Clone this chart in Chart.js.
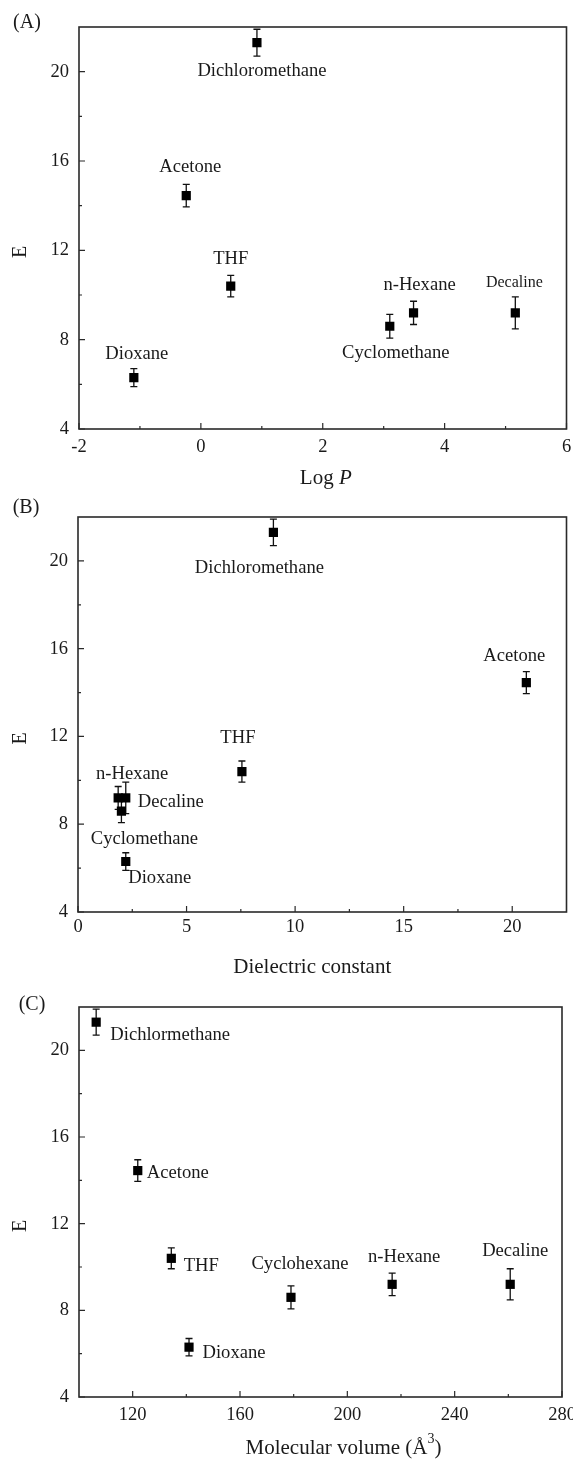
<!DOCTYPE html>
<html>
<head>
<meta charset="utf-8">
<script src="https://cdn.jsdelivr.net/npm/chart.js@4.4.1/dist/chart.umd.min.js"></script>
<style>
  html, body { margin: 0; padding: 0; background: #fff; }
  body { width: 573px; height: 1459px; position: relative; overflow: hidden; }
  .panel { position: absolute; left: 0; width: 573px; }
</style>
</head>
<body>
<div class="panel" style="top:0;height:490px"><canvas id="chart-a"></canvas></div>
<div class="panel" style="top:490px;height:490px"><canvas id="chart-b"></canvas></div>
<div class="panel" style="top:980px;height:479px"><canvas id="chart-c"></canvas></div>
<script>
// solvents, same order in all three panels
const eValues = [21.3, 14.45, 10.4, 6.3, 8.6, 9.2, 9.2];
const eErrors = [0.6, 0.5, 0.48, 0.4, 0.53, 0.52, 0.72];

// x values per panel
const logP = [0.92, -0.24, 0.49, -1.10, 3.10, 3.49, 5.16];
const dielectric = [9.0, 20.65, 7.55, 2.2, 2.0, 1.85, 2.2];
const molVolume = [106.4, 121.9, 134.4, 141.0, 179.0, 216.7, 260.7];

// point labels as printed in each panel
const labelsA = ['Dichloromethane', 'Acetone', 'THF', 'Dioxane', 'Cyclomethane', 'n-Hexane', 'Decaline'];
const labelsB = ['Dichloromethane', 'Acetone', 'THF', 'Dioxane', 'Cyclomethane', 'n-Hexane', 'Decaline'];
const labelsC = ['Dichlormethane', 'Acetone', 'THF', 'Dioxane', 'Cyclohexane', 'n-Hexane', 'Decaline'];

// tick values
const yTicks = [4, 8, 12, 16, 20];
const yMinor = [6, 10, 14, 18];
const xTicksA = [-2, 0, 2, 4, 6];
const xMinorA = [-1, 1, 3, 5];
const xTicksB = [0, 5, 10, 15, 20];
const xMinorB = [2.5, 7.5, 12.5, 17.5];
const xTicksC = [120, 160, 200, 240, 280];
const xMinorC = [140, 180, 220, 260];

const SERIF = '"Liberation Serif", "Times New Roman", serif';
const INK = '#1a1a1a';

Chart.defaults.font.family = SERIF;
Chart.defaults.color = INK;

// error bars, frame, inward ticks, point labels and axis titles
const panelDecor = {
    id: 'panelDecor',
    beforeDatasetsDraw(chart) {
        const ctx = chart.ctx;
        const ys = chart.scales.y;
        const meta = chart.getDatasetMeta(0);
        ctx.save();
        ctx.strokeStyle = '#111';
        ctx.lineWidth = 1.3;
        meta.data.forEach((pt, i) => {
            const top = ys.getPixelForValue(eValues[i] + eErrors[i]);
            const bot = ys.getPixelForValue(eValues[i] - eErrors[i]);
            ctx.beginPath();
            ctx.moveTo(pt.x, top); ctx.lineTo(pt.x, bot);
            ctx.moveTo(pt.x - 3.5, top); ctx.lineTo(pt.x + 3.5, top);
            ctx.moveTo(pt.x - 3.5, bot); ctx.lineTo(pt.x + 3.5, bot);
            ctx.stroke();
        });
        ctx.restore();
    },
    afterDraw(chart, args, opts) {
        const ctx = chart.ctx;
        const area = chart.chartArea;
        const xs = chart.scales.x;
        const ys = chart.scales.y;
        ctx.save();

        // frame
        ctx.strokeStyle = '#2a2a2a';
        ctx.lineWidth = 1.6;
        ctx.strokeRect(area.left, area.top, area.right - area.left, area.bottom - area.top);

        // inward ticks
        ctx.lineWidth = 1.2;
        ctx.beginPath();
        xs.ticks.forEach(t => {
            const px = xs.getPixelForValue(t.value);
            ctx.moveTo(px, area.bottom); ctx.lineTo(px, area.bottom - 6);
        });
        opts.xMinor.forEach(v => {
            const px = xs.getPixelForValue(v);
            ctx.moveTo(px, area.bottom); ctx.lineTo(px, area.bottom - 3);
        });
        ys.ticks.forEach(t => {
            const py = ys.getPixelForValue(t.value);
            ctx.moveTo(area.left, py); ctx.lineTo(area.left + 6, py);
        });
        opts.yMinor.forEach(v => {
            const py = ys.getPixelForValue(v);
            ctx.moveTo(area.left, py); ctx.lineTo(area.left + 3, py);
        });
        ctx.stroke();

        // point labels
        ctx.fillStyle = INK;
        ctx.textAlign = 'center';
        ctx.textBaseline = 'middle';
        const meta = chart.getDatasetMeta(0);
        meta.data.forEach((pt, i) => {
            const [dx, dy, size] = opts.labelOffsets[i];
            ctx.font = (size || 18.6) + 'px ' + SERIF;
            ctx.fillText(opts.labels[i], pt.x + dx, pt.y + dy);
        });

        // panel tag
        ctx.font = '20px ' + SERIF;
        ctx.fillText(opts.tag, opts.tagPos[0], opts.tagPos[1]);

        // y title, rotated
        ctx.save();
        ctx.translate(21, (area.top + area.bottom) / 2 + 24);
        ctx.rotate(-Math.PI / 2);
        ctx.font = '20px ' + SERIF;
        ctx.fillText('E', 0, 0);
        ctx.restore();

        // x title made of styled pieces
        const parts = opts.xTitle;
        let total = 0;
        parts.forEach(p => {
            ctx.font = p.font + ' ' + SERIF;
            total += ctx.measureText(p.text).width;
        });
        let cx = (area.left + area.right) / 2 + opts.titleDx - total / 2;
        ctx.textAlign = 'left';
        parts.forEach(p => {
            ctx.font = p.font + ' ' + SERIF;
            ctx.fillText(p.text, cx, opts.titleY + (p.rise || 0));
            cx += ctx.measureText(p.text).width;
        });
        ctx.restore();
    }
};

function makePanel(id, xValues, xMin, xMax, xTicks, decor, geom) {
    const ctx = document.getElementById(id).getContext('2d');
    return new Chart(ctx, {
        type: 'scatter',
        data: {
            datasets: [{
                data: xValues.map((x, i) => ({ x: x, y: eValues[i] })),
                pointStyle: 'rect',
                pointRadius: 6.5,
                backgroundColor: '#000',
                borderWidth: 0
            }]
        },
        options: {
            responsive: true,
            maintainAspectRatio: false,
            animation: false,
            events: [],
            layout: { padding: { top: geom.top, right: geom.right, left: 0, bottom: 0 } },
            scales: {
                x: {
                    type: 'linear',
                    min: xMin,
                    max: xMax,
                    afterBuildTicks: s => { s.ticks = xTicks.map(v => ({ value: v })); },
                    afterFit: s => { s.height = geom.xHeight; s.paddingLeft = 0; s.paddingRight = 0; },
                    grid: { display: false, drawTicks: false },
                    border: { display: false },
                    ticks: { padding: geom.xPad, color: INK, font: { size: 18.5 }, maxRotation: 0 },
                    title: { display: false }
                },
                y: {
                    type: 'linear',
                    min: 4,
                    max: 22,
                    afterBuildTicks: s => { s.ticks = yTicks.map(v => ({ value: v })); },
                    afterFit: s => { s.width = geom.left; s.paddingTop = 0; s.paddingBottom = 0; },
                    grid: { display: false, drawTicks: false },
                    border: { display: false },
                    ticks: { padding: 10, color: INK, font: { size: 18.5 } },
                    title: { display: false }
                }
            },
            plugins: {
                legend: { display: false },
                tooltip: { enabled: false },
                panelDecor: decor
            }
        },
        plugins: [panelDecor]
    });
}

makePanel('chart-a', logP, -2, 6, xTicksA, {
    labels: labelsA,
    labelOffsets: [[5, 28], [4, -29], [0, -27], [3, -24], [6, 27], [6, -28], [-1, -30, 16]],
    xMinor: xMinorA, yMinor: yMinor,
    tag: '(A)', tagPos: [27, 23],
    xTitle: [{ text: 'Log ', font: '21px' }, { text: 'P', font: 'italic 21px' }],
    titleDx: 3, titleY: 478
}, { top: 27, right: 4, left: 79, xHeight: 61, xPad: 7 });

makePanel('chart-b', dielectric, 0, 22.5, xTicksB, {
    labels: labelsB,
    labelOffsets: [[-14, 36], [-12, -27], [-4, -33], [34, 17], [23, 28], [14, -24], [45, 4]],
    xMinor: xMinorB, yMinor: yMinor,
    tag: '(B)', tagPos: [26, 18],
    xTitle: [{ text: 'Dielectric constant', font: '21px' }],
    titleDx: -10, titleY: 477
}, { top: 27, right: 2, left: 78, xHeight: 68, xPad: 4 });

makePanel('chart-c', molVolume, 100, 280, xTicksC, {
    labels: labelsC,
    labelOffsets: [[74, 13], [40, 3], [30, 8], [45, 6], [9, -33], [12, -27], [5, -33]],
    xMinor: xMinorC, yMinor: yMinor,
    tag: '(C)', tagPos: [32, 25],
    xTitle: [
        { text: 'Molecular volume (Å', font: '21px' },
        { text: '3', font: '14px', rise: -9 },
        { text: ')', font: '21px' }
    ],
    titleDx: 23, titleY: 468
}, { top: 27, right: 11, left: 79, xHeight: 62, xPad: 7 });
</script>
</body>
</html>
